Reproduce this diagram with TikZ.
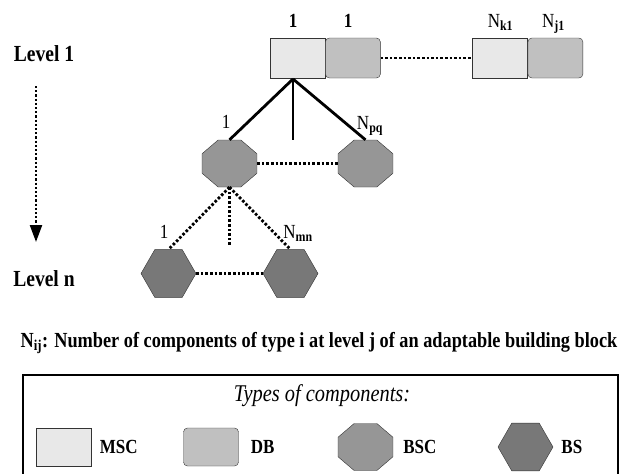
\documentclass[tikz,border=0pt]{standalone}
\usepackage{fontspec}
\setmainfont[FakeStretch=0.85]{Liberation Serif}
\usetikzlibrary{arrows.meta}
\usetikzlibrary{positioning}
\usetikzlibrary{shapes.geometric}

\definecolor{mscfill}{RGB}{232,232,232}
\definecolor{dbfill}{RGB}{192,192,192}
\definecolor{bscfill}{RGB}{150,150,150}
\definecolor{bsfill}{RGB}{120,120,120}

\tikzset{
  msc/.style={draw=black!80,fill=mscfill,minimum width=55pt,minimum height=40pt,inner sep=0pt},
  db/.style={msc,fill=dbfill,rounded corners=4pt},
  bsc/.style={draw=black!80,fill=bscfill,regular polygon,regular polygon sides=8,minimum size=59.5pt,inner sep=0pt,yscale=0.855,transform shape},
  bs/.style={draw=black!80,fill=bsfill,regular polygon,regular polygon sides=6,minimum size=55pt,inner sep=0pt},
  link/.style={line width=2.8pt},
  dots/.style={line width=2.8pt,dash pattern=on 2.6pt off 2pt},
  num/.style={font=\fontsize{20}{20}\selectfont,anchor=base,inner sep=0pt},
  lvl/.style={font=\bfseries\fontsize{23}{23}\selectfont,anchor=base,inner sep=0pt},
  key/.style={font=\bfseries\fontsize{20}{20}\selectfont,anchor=west,inner sep=0pt}
}

\begin{document}
\begin{tikzpicture}[x=1pt,y=-1pt,>={Triangle[width=12pt,length=17pt]}]
\useasboundingbox (0,0) rectangle (622,474);
% levels
\node[lvl] (lv1) at (44,61) {Level 1};
\node[lvl] (lvn) at (44,286) {Level n};
\coordinate (a1) at (36,86);
\coordinate (a2) at (36,242);
\draw[line width=2.2pt,dash pattern=on 2.2pt off 2pt,->] (a1) -- (a2);
% level 1 blocks
\node[msc] (m1) at (297.5,58) {};
\node[db,right=0pt of m1] (d1) {};
\node[msc] (m2) at (500,58) {};
\node[db,right=0pt of m2] (d2) {};
\draw[dots] (d1.east) -- (m2.west);
\node[num,font=\bfseries\fontsize{20}{20}\selectfont] (n1) at (293,27) {1};
\node[num,font=\bfseries\fontsize{20}{20}\selectfont] (n2) at (348,27) {1};
\node[num] (nk) at (500.5,27) {N\textsubscript{\bfseries k1}};
\node[num] (nj) at (553.5,27) {N\textsubscript{\bfseries j1}};
% building sub-components
\node[bsc] (c1) at (229.5,163.5) {};
\node[bsc] (c2) at (365.5,163.5) {};
\coordinate (hub) at (293,79);
\coordinate (mid) at (293,140);
\draw[link] (hub) -- (c1.north);
\draw[link] (hub) -- (mid);
\draw[link] (hub) -- (c2.north);
\draw[dots] (c1.east) -- (c2.west);
\node[num] (n3) at (226,128) {1};
\node[num] (np) at (370,129) {N\textsubscript{\bfseries pq}};
% building services
\node[bs] (s1) at (168.5,273.5) {};
\node[bs] (s2) at (290.5,273.5) {};
\coordinate (mid2) at (229.5,245);
\draw[dots] (c1.south) -- (s1.north);
\draw[dots] (c1.south) -- (mid2);
\draw[dots] (c1.south) -- (s2.north);
\draw[dots] (s1.east) -- (s2.west);
\node[num] (n4) at (164,238) {1};
\node[num] (nm) at (298,238) {N\textsubscript{\bfseries mn}};
% caption
\node[inner sep=0pt,anchor=base,font=\bfseries\fontsize{21.5}{21.5}\selectfont] (cap) at (319,347)
  {N\textsubscript{ij}: Number of components of type i at level j of an adaptable building block};
% legend
\draw[line width=2.4pt] (23,476) |- (618,375) -- (618,476);
\node[inner sep=0pt,anchor=base,font=\itshape\fontsize{24}{24}\selectfont] (ttl) at (322,401) {Types of components:};
\foreach \sty/\x/\txt/\gap in {msc/64/MSC/8,db/211/DB/12,bsc/365.5/BSC/10,bs/525.5/BS/8}
  \node[\sty,minimum height=38pt] (k\txt) at (\x,447) {} node[key,right=\gap pt of k\txt] {\txt};
\end{tikzpicture}
\end{document}
